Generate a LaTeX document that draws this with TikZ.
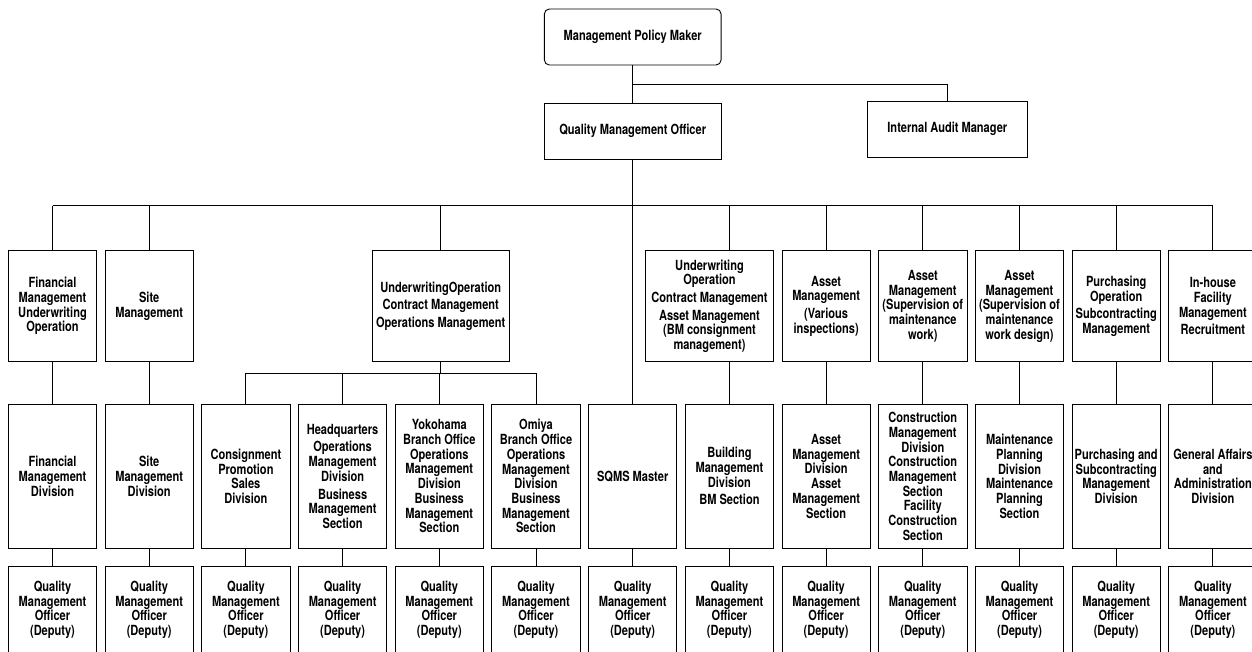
\documentclass[tikz,border=0pt]{standalone}
\usepackage{fontspec}
\setmainfont{TeX Gyre Heros}[FakeStretch=0.79]
\begin{document}
\begin{tikzpicture}[x=1pt,y=-1pt,
  lbl/.style={font=\fontsize{14}{14.7}\selectfont\bfseries},
  box/.style={draw, line width=0.9pt, align=center, inner sep=0pt, lbl, minimum width=88.3pt},
  lvtwo/.style={box, minimum height=110.5pt},
  lvthree/.style={box, minimum height=144pt},
  lvfour/.style={box, minimum height=86pt},
  topbox/.style={box, minimum height=56pt},
  conn/.style={line width=0.9pt}]
\useasboundingbox (0,0) rectangle (1252,652);
\clip (0,0) rectangle (1252,652);
% top
\node[topbox, rounded corners=5pt, minimum width=176.7pt] (mpm) at (632.7,37) {Management Policy Maker};
\node[topbox, minimum width=177pt] (qmo) at (632.7,131.3) {Quality Management Officer};
\node[topbox, minimum width=160.7pt] (iam) at (947.3,129.2) {Internal Audit Manager};
% level 2
\node[lvtwo] (a0) at (52.5,306.2) {Financial\\Management\\Underwriting\\Operation};
\node[lvtwo] (a1) at (149.2,306.2) {Site\\Management};
\node[lvtwo, minimum width=136.7pt] (a4) at (440.7,306.2) {UnderwritingOperation\\[3pt]Contract Management\\[3pt]Operations Management};
\node[lvtwo, minimum width=127.6pt] (a7) at (709.5,306.2) {Underwriting\\Operation\\[3pt]Contract Management\\[3pt]Asset Management\\(BM consignment\\management)};
\node[lvtwo] (a8) at (826.1,306.2) {Asset\\Management\\[3pt](Various\\inspections)};
\node[lvtwo] (a9) at (922.8,306.2) {Asset\\Management\\(Supervision of\\maintenance\\work)};
\node[lvtwo] (a10) at (1019.5,306.2) {Asset\\Management\\(Supervision of\\maintenance\\work design)};
\node[lvtwo] (a11) at (1116.2,306.2) {Purchasing\\Operation\\[3pt]Subcontracting\\Management};
\node[lvtwo] (a12) at (1212.9,306.2) {In-house\\Facility\\Management\\[3pt]Recruitment};
% level 3
\node[lvthree] (b0) at (52.5,476.3) {Financial\\Management\\Division};
\node[lvthree] (b1) at (149.2,476.3) {Site\\Management\\Division};
\node[lvthree] (b2) at (245.9,476.3) {Consignment\\Promotion\\Sales\\Division};
\node[lvthree] (b3) at (342.6,476.3) {Headquarters\\[3pt]Operations\\Management\\Division\\[3pt]Business\\Management\\Section};
\node[lvthree] (b4) at (439.3,476.3) {Yokohama\\Branch Office\\Operations\\Management\\Division\\Business\\Management\\Section};
\node[lvthree] (b5) at (536,476.3) {Omiya\\Branch Office\\Operations\\Management\\Division\\Business\\Management\\Section};
\node[lvthree] (b6) at (632.7,476.3) {SQMS Master};
\node[lvthree] (b7) at (729.4,476.3) {Building\\Management\\Division\\[3pt]BM Section};
\node[lvthree] (b8) at (826.1,476.3) {Asset\\Management\\Division\\Asset\\Management\\Section};
\node[lvthree] (b9) at (922.8,476.3) {Construction\\Management\\Division\\Construction\\Management\\Section\\Facility\\Construction\\Section};
\node[lvthree] (b10) at (1019.5,476.3) {Maintenance\\Planning\\Division\\Maintenance\\Planning\\Section};
\node[lvthree] (b11) at (1116.2,476.3) {Purchasing and\\Subcontracting\\Management\\Division};
\node[lvthree] (b12) at (1212.9,476.3) {General Affairs\\and\\Administration\\Division};
% level 4
\foreach \i/\x in {0/52.5,1/149.2,2/245.9,3/342.6,4/439.3,5/536,6/632.7,7/729.4,8/826.1,9/922.8,10/1019.5,11/1116.2,12/1212.9}
  \node[lvfour] (c\i) at (\x,609.7) {Quality\\Management\\Officer\\(Deputy)};
% connectors
\draw[conn] (mpm.south) -- (qmo.north);
\coordinate (j) at (632.7,84.3);
\draw[conn] (j) -| (iam.north);
\draw[conn] (qmo.south) -- (b6.north);
\coordinate (bus) at (0,205.7);
\draw[conn] (a0.north |- bus) -- (a12.north |- bus);
\foreach \n in {a0,a1,a4,a8,a9,a10,a11,a12}
  \draw[conn] (\n.north |- bus) -- (\n.north);
\draw[conn] (b7.north |- bus) -- (b7.north |- a7.north);
\foreach \i in {0,1,8,9,10,11,12}
  \draw[conn] (a\i.south) -- (b\i.north);
\draw[conn] (b7.north |- a7.south) -- (b7.north);
\coordinate (bustwo) at (0,373.3);
\draw[conn] (a4.south) -- (a4.south |- bustwo);
\draw[conn] (b2.north |- bustwo) -- (b5.north |- bustwo);
\foreach \i in {2,3,4,5}
  \draw[conn] (b\i.north |- bustwo) -- (b\i.north);
\foreach \i in {0,...,12}
  \draw[conn] (b\i.south) -- (c\i.north);
\end{tikzpicture}
\end{document}
